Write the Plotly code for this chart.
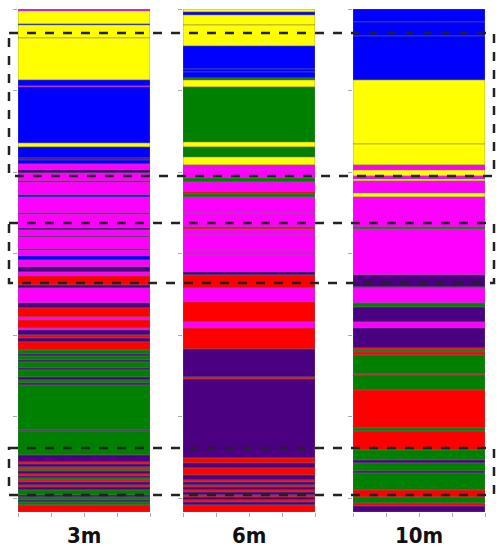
import plotly.graph_objects as go

# Cluster colours
palette = {
    'M': '#FF00FF',
    'Y': '#FFFF00',
    'B': '#0000FF',
    'G': '#008000',
    'R': '#FF0000',
    'P': '#4B0082',
}

n_rows = 503

# Start row of each run, and its cluster, for every window
starts_3m = [0, 2, 15, 16, 29, 71, 77, 78, 134, 138, 149, 151, 155, 161, 164, 172, 173, 186, 188,
             204, 205, 219, 221, 227, 228, 240, 241, 247, 251, 258, 263, 267, 276, 279, 294, 299,
             308, 311, 319, 321, 326, 329, 333, 341, 345, 347, 351, 353, 359, 361, 368, 371, 374,
             376, 421, 422, 446, 453, 455, 458, 460, 462, 465, 467, 469, 471, 473, 476, 478, 481,
             486, 488, 491, 493, 496]
clusters_3m = ['M', 'Y', 'B', 'Y', 'Y', 'B', 'M', 'B', 'Y', 'B', 'P', 'B', 'M', 'P', 'M', 'B', 'M', 'B', 'M',
               'P', 'M', 'P', 'M', 'P', 'M', 'P', 'M', 'B', 'M', 'P', 'M', 'R', 'P', 'M', 'P', 'R',
               'M', 'R', 'M', 'P', 'R', 'P', 'R', 'G', 'P', 'G', 'P', 'G', 'P', 'G', 'P', 'G', 'P',
               'G', 'P', 'G', 'P', 'R', 'P', 'R', 'G', 'P', 'R', 'P', 'G', 'R', 'P', 'R', 'P', 'G',
               'P', 'G', 'P', 'G', 'R']

starts_6m = [0, 3, 6, 16, 37, 60, 63, 69, 71, 78, 133, 138, 148, 156, 161, 169, 173, 183, 185, 188,
             204, 218, 220, 226, 241, 246, 263, 266, 279, 293, 313, 319, 340, 368, 370, 449, 454,
             459, 466, 471, 473, 476, 478, 481, 483, 486, 488, 491, 493, 496]
clusters_6m = ['Y', 'B', 'Y', 'Y', 'B', 'B', 'B', 'G', 'Y', 'G', 'Y', 'G', 'Y', 'M', 'M', 'G', 'M', 'R', 'G', 'M',
               'M', 'R', 'M', 'M', 'M', 'M', 'P', 'R', 'M', 'R', 'M', 'R', 'P', 'R', 'P', 'R', 'P',
               'R', 'P', 'R', 'P', 'R', 'P', 'R', 'P', 'R', 'P', 'R', 'P', 'R']

starts_10m = [0, 13, 27, 71, 135, 156, 161, 167, 170, 172, 184, 188, 218, 220, 266, 278, 279, 294,
              298, 313, 319, 339, 341, 343, 346, 365, 366, 381, 419, 422, 441, 451, 454, 462, 464,
              481, 488, 494, 497]
clusters_10m = ['B', 'B', 'B', 'Y', 'Y', 'M', 'Y', 'M', 'Y', 'M', 'Y', 'M', 'G', 'M', 'P', 'G', 'M', 'G',
                'P', 'M', 'P', 'R', 'G', 'R', 'G', 'R', 'G', 'R', 'G', 'R', 'G', 'P', 'G', 'P', 'G',
                'R', 'G', 'R', 'P']

windows = ['3m', '6m', '10m']
runs = [(starts_3m, clusters_3m), (starts_6m, clusters_6m), (starts_10m, clusters_10m)]

# Highlighted periods (row ranges)
highlights = [(24, 167), (214, 274), (439, 486)]

W, H = 503, 550
x_domains = [(18, 150), (183, 315), (353, 485)]

fig = go.Figure()

for i, (starts, clusters) in enumerate(runs):
    ends = starts[1:] + [n_rows]
    lengths = [e - s for s, e in zip(starts, ends)]
    suffix = '' if i == 0 else str(i + 1)
    fig.add_trace(go.Bar(
        x=[2] * len(starts),
        y=lengths,
        base=starts,
        width=4,
        marker=dict(color=[palette[c] for c in clusters],
                    line=dict(color='rgba(110,110,110,0.8)', width=0.6)),
        xaxis='x' + suffix,
        yaxis='y' + suffix,
        hoverinfo='skip',
        showlegend=False,
    ))

    fig.layout['xaxis' + suffix] = dict(
        domain=[x_domains[i][0] / W, x_domains[i][1] / W],
        range=[0, 4], tickvals=[0, 1, 2, 3, 4], showticklabels=False,
        ticks='outside', ticklen=4, tickcolor='#aaaaaa', showgrid=False, zeroline=False,
        anchor='y' + suffix,
    )
    fig.layout['yaxis' + suffix] = dict(
        domain=[1 - 512 / H, 1 - 9 / H],
        range=[n_rows, 0], tick0=0, dtick=81.5, showticklabels=False,
        ticks='outside', ticklen=4, tickcolor='#aaaaaa', showgrid=False, zeroline=False,
        anchor='x' + suffix,
    )

    fig.add_annotation(
        text='<b>' + windows[i] + '</b>', xref='x' + suffix, x=2, yref='paper', y=1 - 535 / H,
        yanchor='middle', showarrow=False,
        font=dict(family='DejaVu Sans Condensed, Liberation Sans Narrow, Roboto', size=22, color='#111111'),
    )

# Dashed boxes across all three columns
for y0, y1 in highlights:
    fig.add_shape(type='rect', xref='paper', yref='y', x0=9 / W, x1=494 / W, y0=y0, y1=y1,
                  line=dict(color='#222222', width=2.5, dash='dash'))

fig.update_layout(
    width=W, height=H,
    margin=dict(l=0, r=0, t=0, b=0),
    paper_bgcolor='white', plot_bgcolor='white',
    barmode='overlay',
)

# no default page margin, so the figure sits at the window's corner
fig.write_html("out.html", config={'displayModeBar': False},
               post_script="document.body.style.margin='0';")
